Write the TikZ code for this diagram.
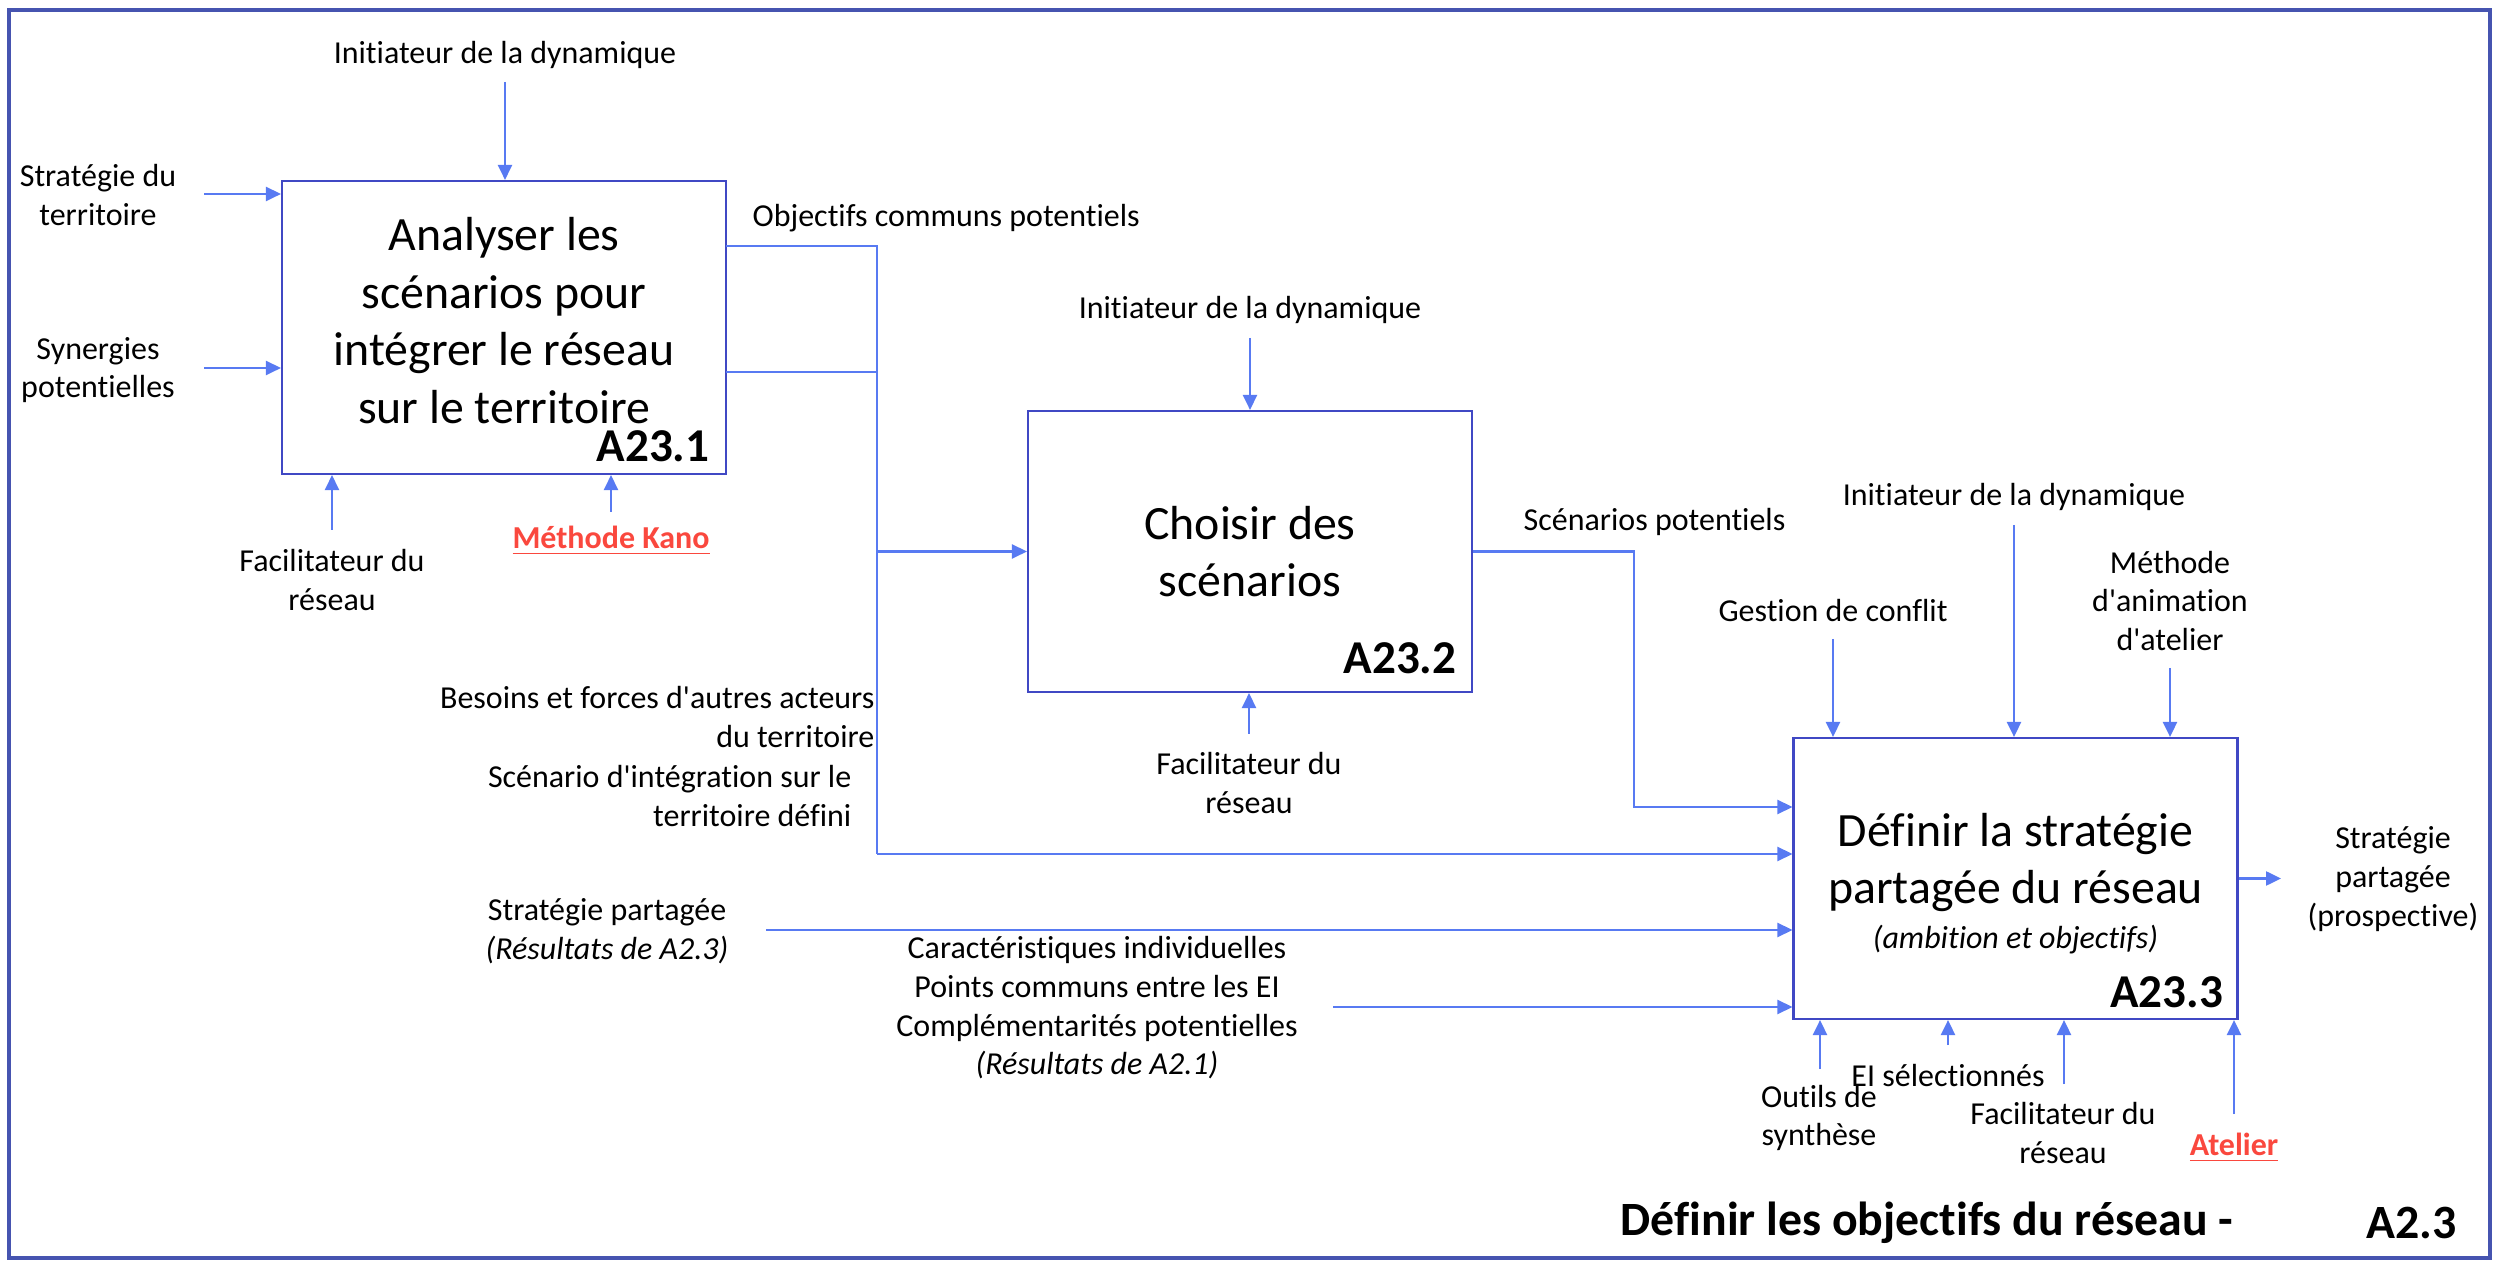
\documentclass[tikz,border=0pt]{standalone}
\usepackage{fontspec}
\setmainfont{Carlito}[Ligatures = NoCommon]
\usetikzlibrary{arrows.meta}

\definecolor{idefline}{RGB}{88,122,242}
\definecolor{idefbox}{RGB}{64,72,196}
\definecolor{ideframe}{RGB}{70,84,176}
\definecolor{idefred}{RGB}{250,72,62}

\newcommand{\apos}{\textquotesingle}

\begin{document}
\begin{tikzpicture}[x = 0.1mm, y = -0.1mm,
        fbox/.style = {draw = idefbox, line width = 0.6pt, minimum width = 44.4mm,
                       inner sep = 0pt},
        ftext/.style = {align = center, inner sep = 0pt,
                        font = \fontsize{13.6}{16.4}\selectfont},
        lab/.style = {align = center, inner sep = 0pt,
                      font = \fontsize{9.1}{11}\selectfont},
        tool/.style = {lab, text = idefred, font = \fontsize{9.1}{11}\selectfont\bfseries},
        code/.style = {anchor = base east, inner sep = 0pt,
                       font = \fontsize{13.4}{16}\selectfont\bfseries},
        link/.style = {draw = idefline, line width = 0.7pt},
        arr/.style = {link, -{Triangle[length = 1.5mm, width = 1.4mm]}}]

    \useasboundingbox (0, 0) rectangle (2494, 1261);
    \draw [draw = ideframe, line width = 1.4pt] (9, 10) rectangle (2490, 1258);

    % activity boxes
    \node [fbox, minimum height = 29.3mm] (a231) at (504, 327.5) {};
    \node [fbox, minimum height = 28.1mm] (a232) at (1250, 551.5) {};
    \node [fbox, minimum height = 28.1mm] (a233) at (2015.5, 878.5) {};

    \node [ftext] (a231t) at ([yshift = 0.7mm] a231.center)
          {Analyser les\\sc\'enarios pour\\int\'egrer le r\'eseau\\sur le territoire};
    \node [ftext] (a232t) at (a232.center) {Choisir des\\sc\'enarios};
    \node [ftext] (a233t) at ([yshift = -0.5mm] a233.center)
          {D\'efinir la strat\'egie\\partag\'ee du r\'eseau\\[-3.6pt]
           {\fontsize{9.1}{11}\selectfont\itshape (ambition et objectifs)}};

    \node [code] (c231) at ([shift = {(-17, -14)}] a231.south east) {A23.1};
    \node [code] (c232) at ([shift = {(-16, -20)}] a232.south east) {A23.2};
    \node [code] (c233) at ([shift = {(-15, -13)}] a233.south east) {A23.3};

    % A23.1
    \node [lab] (ini1) at (505, 55) {Initiateur de la dynamique};
    \node [lab] (strat) at (98, 195) {Strat\'egie du\\territoire};
    \node [lab] (syn) at (98, 370) {Synergies\\potentielles};
    \node [lab] (fac1) at (332, 580) {Facilitateur du\\r\'eseau};
    \node [tool] (kano) at (611, 541) {\underline{M\'ethode Kano}};
    \node [lab, anchor = west] (obj) at (752, 218) {Objectifs communs potentiels};

    \coordinate (ini1s) at (505, 82);
    \coordinate (strats) at (204, 194);
    \coordinate (syns) at (204, 368);
    \coordinate (fac1s) at (332, 530);
    \coordinate (kanos) at (611, 512);

    \draw [arr] (ini1s) -- (ini1s |- a231.north);  % controle
    \draw [arr] (strats) -- (strats -| a231.west); % entree
    \draw [arr] (syns) -- (syns -| a231.west);     % entree
    \draw [arr] (fac1s) -- (fac1s |- a231.south);  % mecanisme
    \draw [arr] (kanos) -- (kanos |- a231.south);  % mecanisme

    % sorties de A23.1 -> A23.2 et A23.3
    \node [lab, align = right, anchor = east] (besoins) at (875, 717)
          {Besoins et forces d\apos autres acteurs\\du territoire};
    \node [lab, align = right, anchor = east] (scenint) at (852, 796)
          {Sc\'enario d\apos int\'egration sur le\\territoire d\'efini};

    \coordinate (out1) at (726, 246);
    \coordinate (out2) at (726, 372);
    \coordinate (bustop) at (877, 246);
    \coordinate (busbot) at (877, 854);

    \draw [link] (out1) -- (bustop) -- (busbot);
    \draw [link] (out2) -- (out2 -| bustop);
    \draw [arr] (bustop |- a232.west) -- (a232.west);  % A23.1 -> A23.2
    \draw [arr] (busbot) -- (busbot -| a233.west);     % A23.1 -> A23.3

    % A23.2
    \node [lab] (ini2) at (1250, 310) {Initiateur de la dynamique};
    \node [lab] (fac2) at (1249, 783) {Facilitateur du\\r\'eseau};
    \node [lab, anchor = west] (scpot) at (1523, 522) {Sc\'enarios potentiels};

    \coordinate (ini2s) at (1250, 338);
    \coordinate (fac2s) at (1249, 734);
    \coordinate (scbend) at (1634, 807);

    \draw [arr] (ini2s) -- (ini2s |- a232.north);
    \draw [arr] (fac2s) -- (fac2s |- a232.south);
    \draw [arr] (a232.east) -| (scbend) -- (scbend -| a233.west); % A23.2 -> A23.3

    % A23.3
    \node [lab] (stpart) at (607, 931) {Strat\'egie partag\'ee\\\textit{(R\'esultats de A2.3)}};
    \node [lab] (carac) at (1097, 1008)
          {Caract\'eristiques individuelles\\Points communs entre les EI\\
           Compl\'ementarit\'es potentielles\\\textit{(R\'esultats de A2.1)}};
    \node [lab] (gest) at (1833, 611) {Gestion de conflit};
    \node [lab] (ini3) at (2014, 497) {Initiateur de la dynamique};
    \node [lab] (meth) at (2170, 601) {M\'ethode\\d\apos animation\\d\apos atelier};
    \node [lab] (outil) at (1819, 1118) {Outils de\\synth\`ese};
    \node [lab] (eisel) at (1948, 1076) {EI s\'electionn\'es};
    \node [lab] (fac3) at (2063, 1133) {Facilitateur du\\r\'eseau};
    \node [tool] (atel) at (2234, 1148) {\underline{Atelier}};
    \node [lab] (stprosp) at (2393, 879) {Strat\'egie\\partag\'ee\\(prospective)};

    \coordinate (stparts) at (766, 930);
    \coordinate (caracs) at (1333, 1007);
    \coordinate (gests) at (1833, 639);
    \coordinate (ini3s) at (2014, 525);
    \coordinate (meths) at (2170, 668);
    \coordinate (outils) at (1820, 1069);
    \coordinate (eisels) at (1948, 1045);
    \coordinate (fac3s) at (2064, 1084);
    \coordinate (atels) at (2234, 1114);
    \coordinate (sortie) at (2281, 878.5);

    \draw [arr] (stparts) -- (stparts -| a233.west);
    \draw [arr] (caracs) -- (caracs -| a233.west);
    \draw [arr] (gests) -- (gests |- a233.north);
    \draw [arr] (ini3s) -- (ini3s |- a233.north);
    \draw [arr] (meths) -- (meths |- a233.north);
    \draw [arr] (outils) -- (outils |- a233.south);
    \draw [arr] (eisels) -- (eisels |- a233.south);
    \draw [arr] (fac3s) -- (fac3s |- a233.south);
    \draw [arr] (atels) -- (atels |- a233.south);
    \draw [arr] (a233.east) -- (sortie); % sortie finale

    % titre
    \node [anchor = west, inner sep = 0pt, font = \fontsize{13.6}{16}\selectfont\bfseries]
          (titre) at (1620, 1223) {D\'efinir les objectifs du r\'eseau -};
    \node [anchor = west, inner sep = 0pt, font = \fontsize{13.6}{16}\selectfont\bfseries]
          (titrecode) at (2366, 1223) {A2.3};
\end{tikzpicture}
\end{document}
